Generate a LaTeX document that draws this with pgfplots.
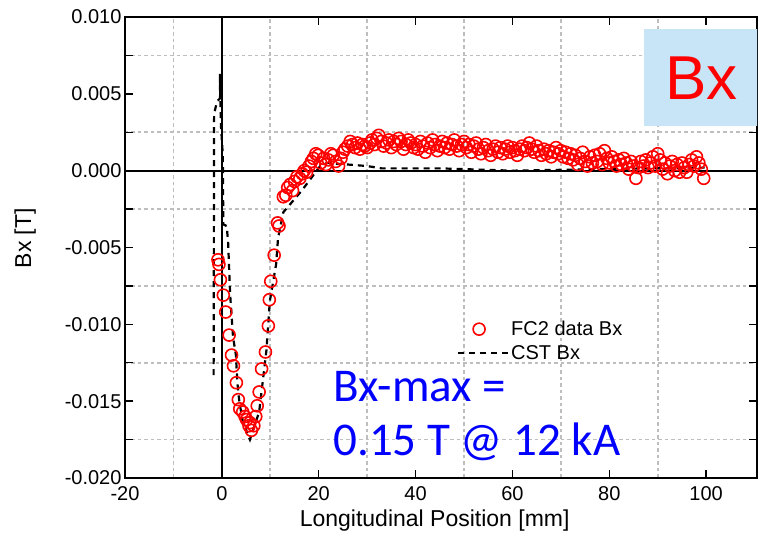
\documentclass[border=0pt]{standalone}
\usepackage{pgfplots}
\pgfplotsset{compat=1.18}
\usepackage{pgfplotstable}
\usepackage{fontspec}
\setmainfont{Liberation Sans}
\newfontfamily\carlito{Carlito}
\definecolor{boxblue}{RGB}{200,229,248}
\definecolor{gridgray}{RGB}{190,190,190}

% FC2 measured data: position [mm], Bx [T]
\pgfplotstableread{
x y
-0.8 -0.0058
-0.6 -0.0061
-0.3 -0.0071
0.3 -0.0081
0.8 -0.0092
1.5 -0.0107
2.0 -0.0120
2.4 -0.0127
3.0 -0.0138
3.4 -0.0149
3.7 -0.0155
4.3 -0.0157
4.8 -0.0160
5.1 -0.0162
5.6 -0.0166
5.8 -0.0164
6.1 -0.0169
6.6 -0.0166
7.0 -0.0160
7.3 -0.0153
7.7 -0.0144
8.2 -0.0129
9.0 -0.0118
9.6 -0.0101
9.8 -0.0084
10.1 -0.0072
10.8 -0.0055
11.5 -0.0034
11.8 -0.0036
12.7 -0.0017
13.2 -0.0016
13.6 -0.0011
14.1 -0.0009
14.6 -0.0013
15.0 -0.0007
15.5 -0.0004
16.1 -0.0005
16.6 -0.0002
17.0 0.0000
17.5 -0.0001
18.0 0.0003
18.5 0.0006
18.9 0.0008
19.4 0.0011
19.9 0.0010
20.4 0.0005
21.0 0.0008
21.5 0.0004
22.0 0.0007
22.5 0.0011
23.0 0.0010
23.5 0.0006
24.1 0.0003
24.6 0.0008
25.0 0.0012
25.4 0.0014
26.0 0.0016
26.5 0.0019
27.0 0.0017
27.5 0.0015
28.0 0.0018
28.5 0.0014
29.0 0.0017
29.5 0.0016
30.0 0.0015
30.6 0.0018
31.0 0.0020
31.5 0.0017
32.0 0.0021
32.4 0.0023
32.9 0.0019
33.4 0.0016
34.0 0.0018
34.5 0.0020
35.0 0.0015
35.5 0.0019
36.0 0.0017
36.5 0.0021
37.0 0.0019
37.5 0.0014
38.0 0.0017
38.5 0.0020
39.0 0.0018
39.6 0.0015
40.0 0.0017
40.5 0.0014
41.0 0.0019
41.5 0.0016
42.0 0.0012
42.5 0.0018
43.0 0.0015
43.5 0.0020
44.0 0.0017
44.5 0.0013
45.0 0.0016
45.5 0.0019
46.0 0.0015
46.5 0.0018
47.0 0.0014
47.5 0.0017
48.0 0.0020
48.5 0.0016
49.0 0.0013
49.5 0.0017
50.0 0.0019
50.5 0.0015
51.0 0.0017
51.5 0.0012
52.0 0.0016
52.5 0.0018
53.0 0.0014
53.5 0.0011
54.0 0.0015
54.5 0.0017
55.0 0.0013
55.5 0.0010
56.0 0.0014
56.5 0.0016
57.0 0.0012
57.5 0.0015
58.0 0.0011
58.5 0.0014
59.0 0.0016
59.5 0.0012
60.0 0.0015
60.5 0.0013
61.0 0.0010
61.5 0.0014
62.0 0.0016
62.5 0.0013
63.0 0.0015
63.5 0.0018
64.0 0.0014
64.5 0.0012
65.0 0.0016
65.5 0.0013
66.0 0.0010
66.5 0.0014
67.0 0.0011
67.5 0.0013
68.0 0.0009
68.5 0.0012
69.0 0.0015
69.5 0.0011
70.0 0.0013
70.5 0.0009
71.0 0.0012
71.5 0.0008
72.0 0.0011
72.5 0.0007
73.0 0.0010
73.5 0.0004
74.0 0.0008
74.5 0.0012
75.0 0.0006
75.5 0.0003
76.0 0.0009
76.5 0.0005
77.0 0.0010
77.5 0.0006
78.0 0.0011
78.5 0.0004
79.0 0.0013
79.5 0.0008
80.0 0.0005
80.5 0.0009
81.0 0.0006
81.5 0.0003
82.0 0.0007
82.5 0.0004
83.0 0.0008
83.5 0.0005
84.0 0.0001
84.5 0.0006
85.0 0.0003
85.5 -0.0005
86.0 0.0002
86.5 0.0006
87.0 0.0003
87.5 0.0007
88.0 0.0002
88.5 0.0005
89.0 0.0009
89.5 0.0003
90.0 0.0011
90.5 0.0007
91.0 0.0001
91.5 0.0005
92.0 -0.0002
92.5 0.0003
93.0 0.0006
93.5 0.0000
94.0 0.0004
94.5 -0.0001
95.0 0.0005
95.5 0.0002
96.0 -0.0001
96.5 0.0004
97.0 0.0007
97.5 0.0003
98.0 0.0009
98.5 0.0005
99.0 0.0001
99.5 -0.0005
}\fctwo

% CST simulation
\pgfplotstableread{
x y
-1.7 -0.0133
-1.6 0.0037
-1.0 0.0045
-0.4 0.0047
-0.4 0.0063
-0.2 0.0030
0.2 0.0010
0.3 -0.0035
1.0 -0.0036
1.3 -0.0047
1.7 -0.0080
2.3 -0.0108
2.9 -0.0120
3.2 -0.0138
3.6 -0.0150
4.3 -0.0163
5.8 -0.0175
7.7 -0.0157
9.2 -0.0117
9.9 -0.0085
11.2 -0.0061
11.6 -0.0044
12.7 -0.0027
16.5 -0.0013
20.3 0.0003
21.7 0.0005
26.0 0.0004
30.0 0.0003
33.0 0.00015
45.0 0.00015
60.0 0.0000
78.0 0.0001
100.0 0.0002
}\cst

\begin{document}
\begin{tikzpicture}
\begin{axis}[
    scale only axis,
    width=632pt, height=461pt,
    xmin=-20, xmax=110.5,
    ymin=-0.020, ymax=0.010,
    xtick={-20,0,...,100},
    minor xtick={-10,10,...,90},
    ytick={-0.020,-0.015,...,0.010},
    minor ytick={-0.0175,-0.0125,...,0.0075},
    scaled y ticks=false,
    yticklabel style={/pgf/number format/.cd, fixed, fixed zerofill, precision=3},
    /pgf/number format/assume math mode=true,
    tick label style={font=\fontsize{20}{24}\selectfont},
    xticklabel style={yshift=-5pt},
    tick align=inside,
    major tick length=8pt,
    minor x tick style={draw=none},
    every tick/.style={black, line width=1.4pt},
    minor tick length=8pt,
    axis line style={line width=2pt},
    minor grid style={gridgray, line width=1.6pt, dash pattern=on 3.5pt off 3pt},
    grid=minor,
    xlabel={Longitudinal Position [mm]},
    ylabel={Bx [T]},
    label style={font=\fontsize{23}{27}\selectfont},
    xlabel style={at={(rel axis cs:0.49,-0.093)}, anchor=center},
    ylabel style={at={(rel axis cs:-0.158,0.52)}, anchor=center},
    legend style={at={(rel axis cs:0.525,0.345)}, anchor=north west, draw=none, fill=none,
        font=\fontsize{20}{24}\selectfont, row sep=4pt, inner sep=0pt,
        cells={anchor=west}},
    legend cell align=left,
]
\addplot[only marks, red, mark=o, mark size=6pt, line width=1.6pt,
    legend image code/.code={\path[draw=none] (0pt,0pt) -- (50pt,0pt);
        \draw[red, line width=1.6pt, mark=o, mark size=6pt]
        plot[only marks] coordinates {(21pt,0pt)};}]
    table[x=x, y=y] {\fctwo};
\addlegendentry{FC2 data Bx}
\addplot[black, line width=2.2pt, dash pattern=on 6pt off 5pt, no marks,
    legend image code/.code={\draw[black, line width=2.2pt, dash pattern=on 6pt off 5pt]
        (0pt,0pt) -- (50pt,0pt);}]
    table[x=x, y=y] {\cst};
\addlegendentry{CST Bx}

% zero lines
\draw[black, line width=2.2pt] (axis cs:0,-0.020) -- (axis cs:0,0.010);
\draw[black, line width=2.2pt] (axis cs:-20,0) -- (axis cs:110.5,0);

\node[anchor=base west, text=blue, font=\carlito\fontsize{47}{50}\selectfont, inner sep=0pt]
    at (axis cs:23,-0.0150) {Bx-max =};
\node[anchor=base west, text=blue, font=\carlito\fontsize{47}{50}\selectfont, inner sep=0pt]
    at (axis cs:23,-0.01852) {0.15 T @ 12 kA};
\node[anchor=north east, fill=boxblue, text=red, minimum width=115pt, minimum height=97pt,
    inner sep=0pt, font=\fontsize{62}{62}\selectfont]
    at ([xshift=2pt, yshift=-12pt]rel axis cs:1,1) {Bx};
\end{axis}
\pgfresetboundingbox
\path ([xshift=-125pt,yshift=-71pt]current axis.south west)
    rectangle ([xshift=4pt,yshift=17pt]current axis.north east);
\end{tikzpicture}
\end{document}
